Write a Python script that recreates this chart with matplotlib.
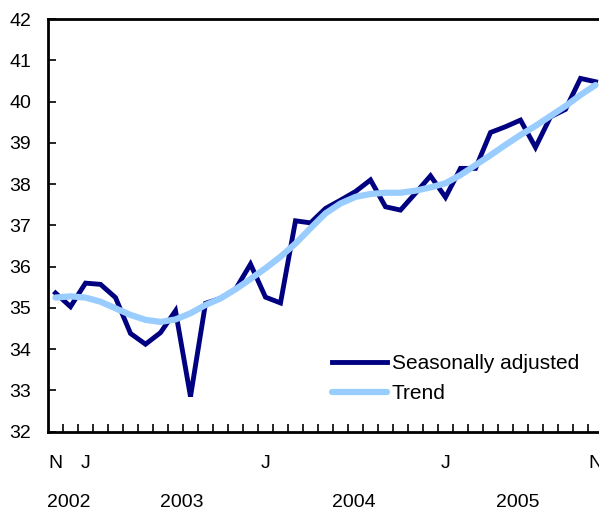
import matplotlib
matplotlib.use("Agg")
import matplotlib.pyplot as plt
import numpy as np
from matplotlib.transforms import blended_transform_factory

plt.rcParams['font.family'] = ['Liberation Sans', 'DejaVu Sans']

# Monthly data, Nov 2002 .. Nov 2005 (37 months)
seasonally_adjusted = [35.36, 35.03, 35.60, 35.57, 35.25, 34.38, 34.12, 34.40, 34.93, 32.85,
                       35.11, 35.23, 35.45, 36.06, 35.26, 35.12, 37.11, 37.06, 37.41, 37.61,
                       37.82, 38.10, 37.45, 37.37, 37.78, 38.20, 37.68, 38.38, 38.38, 39.25,
                       39.39, 39.55, 38.89, 39.63, 39.81, 40.56, 40.48]
trend = [35.25, 35.28, 35.25, 35.15, 34.99, 34.83, 34.71, 34.66, 34.72, 34.87,
         35.07, 35.23, 35.45, 35.70, 35.96, 36.24, 36.56, 36.93, 37.29, 37.53,
         37.69, 37.76, 37.79, 37.79, 37.84, 37.92, 38.02, 38.22, 38.46, 38.70,
         38.95, 39.19, 39.41, 39.65, 39.89, 40.16, 40.40]
month_labels = {0: "N", 2: "J", 14: "J", 26: "J", 36: "N"}
year_labels = ["2002", "2003", "2004", "2005"]
year_label_pos = [0.87, 8.4, 19.9, 30.83]
yticks = list(range(32, 43))

fig = plt.figure(figsize=(5.99, 5.12), dpi=100)
ax = fig.add_axes([48/599, (512-431.7)/512, (603-48)/599, (431.7-19)/512])

x = np.arange(len(seasonally_adjusted))
ax.plot(x, seasonally_adjusted, color="#000080", lw=3.5, solid_joinstyle='miter',
        label="Seasonally adjusted", zorder=3)
ax.plot(x, trend, color="#99ccff", lw=4.5, solid_capstyle='round',
        label="Trend", zorder=4)

ax.set_xlim(-0.5, 36.5)
ax.set_ylim(32, 42)
ax.set_yticks(yticks)
ax.set_yticklabels([str(v) for v in yticks])
ax.set_xticks(np.arange(0.5, 36, 1))
ax.set_xticklabels([])
ax.set_xticks(list(month_labels.keys()), minor=True)
ax.set_xticklabels(list(month_labels.values()), minor=True)
ax.tick_params(axis='x', which='major', direction='in', length=5.5, width=1.2)
ax.tick_params(axis='x', which='minor', length=0, pad=16.5, labelsize=14)
ax.tick_params(axis='y', direction='in', length=5.5, width=1.2, pad=12, labelsize=14)
for s in ['left', 'bottom', 'top']:
    ax.spines[s].set_linewidth(2.0)
ax.spines['right'].set_visible(False)

trans = blended_transform_factory(ax.transData, ax.transAxes)
for lab, pos in zip(year_labels, year_label_pos):
    ax.text(pos, -0.172, lab, transform=trans, ha='center', va='center', fontsize=14)

leg = ax.legend(loc='lower left', bbox_to_anchor=((332-48)/555, (431.7-403)/412.7),
                frameon=False, fontsize=15, handlelength=2.65, handletextpad=0.22,
                labelspacing=0.52, borderaxespad=0, borderpad=0)

fig.savefig("out.png", dpi=100)
